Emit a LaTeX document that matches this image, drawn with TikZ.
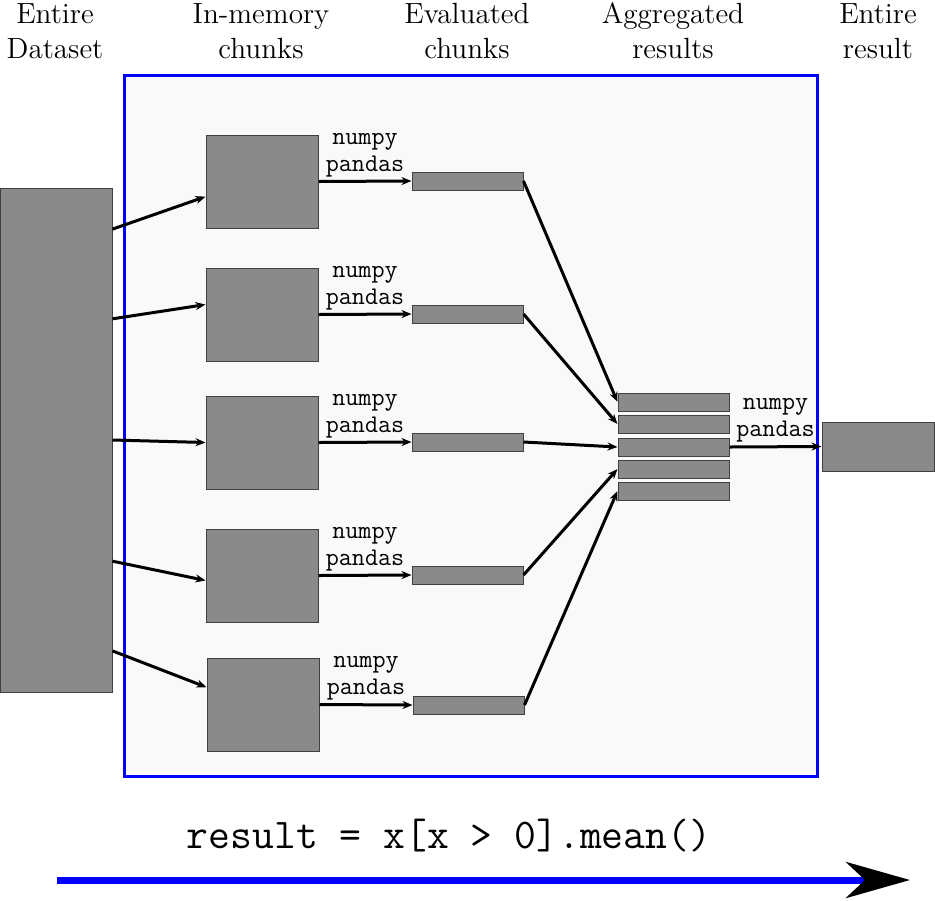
\documentclass[tikz,border=0pt]{standalone}
\usetikzlibrary{arrows.meta}
\definecolor{chunkgray}{RGB}{138,138,138}
\definecolor{panelgray}{RGB}{249,249,249}
\begin{document}
\begin{tikzpicture}[x=0.5pt, y=-0.5pt,
        block/.style={draw=black!75, line width=0.5pt, fill=chunkgray, inner sep=0pt},
        chunk/.style={block, minimum width=56pt, minimum height=46.5pt},
        evald/.style={block, minimum width=55.5pt, minimum height=9pt},
        flow/.style={black, line width=1.5pt, -{Stealth[length=5pt, width=4pt]}},
        lib/.style={font=\fontsize{12.7}{13.5}\selectfont\ttfamily, align=center, above, inner sep=1.5pt},
        head/.style={font=\fontsize{14.6}{17.5}\selectfont, align=center}]
                \useasboundingbox (0,0) rectangle (935,900);
                \draw[blue, line width=1.5pt, fill=panelgray] (124,75) rectangle (817,776);
                \node[head] (hdata) at (55,31) {Entire\\Dataset};
                \node[head] (hchunk) at (261,31) {In-memory\\chunks};
                \node[head] (heval) at (467,31) {Evaluated\\chunks};
                \node[head] (hagg) at (673,31) {Aggregated\\results};
                \node[head] (hres) at (878,31) {Entire\\result};
                \node[block, minimum width=56pt, minimum height=252pt] (data) at (56,440) {};
                \node[chunk] (c1) at (262,181.5) {};
                \node[chunk] (c2) at (262,314.5) {};
                \node[chunk] (c3) at (262,442.5) {};
                \node[chunk] (c4) at (262,575.5) {};
                \node[chunk] (c5) at (263,704.5) {};
                \node[evald] (e1) at (467.5,181) {};
                \node[evald] (e2) at (467.5,314) {};
                \node[evald] (e3) at (467.5,442) {};
                \node[evald] (e4) at (467.5,575) {};
                \node[evald] (e5) at (468.5,705) {};
                \node[evald] (a1) at (673.5,402) {};
                \node[evald] (a2) at (673.5,424) {};
                \node[evald] (a3) at (673.5,447) {};
                \node[evald] (a4) at (673.5,469) {};
                \node[evald] (a5) at (673.5,491) {};
                \node[block, minimum width=56pt, minimum height=24.5pt] (res) at (878,446.5) {};
                \draw[flow] (data.75.6) -- (c1.195);
                \draw[flow] (data.65.4) -- (c2.170);
                \draw[flow] (data.0) -- (c3.180);
                \draw[flow] (data.-65.9) -- (c4.185);
                \draw[flow] (data.-75.7) -- (c5.163);
                \draw[flow] (c1.east) -- node[lib] {numpy\\pandas} (e1.west);
                \draw[flow] (c2.east) -- node[lib] {numpy\\pandas} (e2.west);
                \draw[flow] (c3.east) -- node[lib] {numpy\\pandas} (e3.west);
                \draw[flow] (c4.east) -- node[lib] {numpy\\pandas} (e4.west);
                \draw[flow] (c5.east) -- node[lib] {numpy\\pandas} (e5.west);
                \draw[flow] (e1.east) -- (a1.west);
                \draw[flow] (e2.east) -- (a2.west);
                \draw[flow] (e3.east) -- (a3.west);
                \draw[flow] (e4.east) -- (a4.west);
                \draw[flow] (e5.east) -- (a5.west);
                \draw[flow] (a3.east) -- node[lib] {numpy\\pandas} (res.west);
                \node[font=\fontsize{21.2}{24}\selectfont\ttfamily] (code) at (449,836) {result = x[x > 0].mean()};
                \coordinate (t0) at (57,880);
                \coordinate (t1) at (910,880);
                \draw[blue, line width=3.5pt, -{Stealth[length=32pt, width=18pt, inset=9.5pt, black]}] (t0) -- (t1);
            \end{tikzpicture}
\end{document}
